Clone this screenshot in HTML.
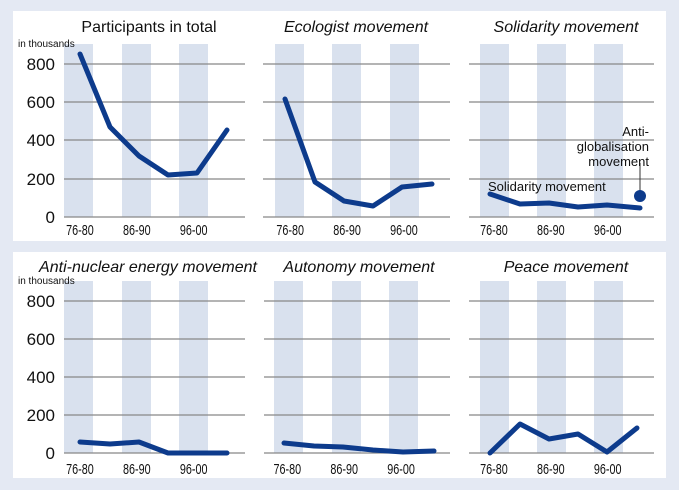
<!DOCTYPE html>
<html><head><style>
html,body{margin:0;padding:0;background:#e4e9f3;}
svg{display:block;font-family:"Liberation Sans",sans-serif;}
</style></head><body>
<svg width="679" height="490" viewBox="0 0 679 490">
<rect x="0" y="0" width="679" height="490" fill="#e4e9f3"/>
<rect x="13" y="11" width="653" height="230" fill="#fff"/>
<rect x="13" y="252" width="653" height="226" fill="#fff"/>
<g fill="#d9e1ee">
<rect x="64" y="44" width="29" height="173"/><rect x="122" y="44" width="29" height="173"/><rect x="179" y="44" width="29" height="173"/>
<rect x="275" y="44" width="29" height="173"/><rect x="332" y="44" width="29" height="173"/><rect x="390" y="44" width="29" height="173"/>
<rect x="480" y="44" width="29" height="173"/><rect x="537" y="44" width="29" height="173"/><rect x="594" y="44" width="29" height="173"/>
<rect x="64" y="281" width="29" height="172"/><rect x="122" y="281" width="29" height="172"/><rect x="179" y="281" width="29" height="172"/>
<rect x="274" y="281" width="29" height="172"/><rect x="332" y="281" width="29" height="172"/><rect x="389" y="281" width="29" height="172"/>
<rect x="480" y="281" width="29" height="172"/><rect x="537" y="281" width="29" height="172"/><rect x="594" y="281" width="29" height="172"/>
</g>
<g stroke="#888" stroke-width="1.2">
<path d="M64 64H245M64 102H245M64 140H245M64 179H245M64 217H245"/>
<path d="M263 64H450M263 102H450M263 140H450M263 179H450M263 217H450"/>
<path d="M469 64H654M469 102H654M469 140H654M469 179H654M469 217H654"/>
<path d="M64 301H245M64 339H245M64 377H245M64 415H245M64 453H245"/>
<path d="M264 301H450M264 339H450M264 377H450M264 415H450M264 453H450"/>
<path d="M469 301H654M469 339H654M469 377H654M469 415H654M469 453H654"/>
</g>
<g fill="#111" font-size="17" text-anchor="end">
<text x="55" y="70">800</text><text x="55" y="108">600</text><text x="55" y="146">400</text><text x="55" y="185">200</text><text x="55" y="223">0</text>
<text x="55" y="307">800</text><text x="55" y="345">600</text><text x="55" y="383">400</text><text x="55" y="421">200</text><text x="55" y="459">0</text>
</g>
<g fill="#111" font-size="10"><text x="18" y="47">in thousands</text><text x="18" y="284">in thousands</text></g>
<g fill="#111" font-size="16" text-anchor="middle">
<text x="149" y="32">Participants in total</text>
<text x="356" y="32" font-style="italic">Ecologist movement</text>
<text x="566" y="32" font-style="italic">Solidarity movement</text>
<text x="148" y="272" font-style="italic">Anti-nuclear energy movement</text>
<text x="359" y="272" font-style="italic">Autonomy movement</text>
<text x="566" y="272" font-style="italic">Peace movement</text>
</g>
<g fill="#111" font-size="15" text-anchor="middle" transform="scale(0.72,1)">
<text x="111" y="235">76-80</text><text x="190" y="235">86-90</text><text x="269" y="235">96-00</text>
<text x="403" y="235">76-80</text><text x="482" y="235">86-90</text><text x="561" y="235">96-00</text>
<text x="686" y="235">76-80</text><text x="765" y="235">86-90</text><text x="844" y="235">96-00</text>
<text x="111" y="474">76-80</text><text x="190" y="474">86-90</text><text x="269" y="474">96-00</text>
<text x="399" y="474">76-80</text><text x="478" y="474">86-90</text><text x="557" y="474">96-00</text>
<text x="686" y="474">76-80</text><text x="765" y="474">86-90</text><text x="844" y="474">96-00</text>
</g>
<g fill="none" stroke="#0d3b8c" stroke-width="5" stroke-linejoin="round" stroke-linecap="round">
<polyline points="80,54 110,127 139,156 168,175 197,173 227,130"/>
<polyline points="285,99 315,182 344,201 373,206 402,187 432,184"/>
<polyline points="490,194 520,204 549,203 578,207 607,205 640,208"/>
<polyline points="80,442 110,444 139,442 168,453 197,453 227,453"/>
<polyline points="284,443 314,446 343,447 373,450 403,452 434,451"/>
<polyline points="490,453 520,424 549,439 578,434 607,452 637,428"/>
</g>
<line x1="640" y1="163" x2="640" y2="192" stroke="#333" stroke-width="1"/>
<circle cx="640" cy="196" r="6" fill="#0d3b8c"/>
<g fill="#111" font-size="13">
<text x="488" y="191">Solidarity movement</text>
<g text-anchor="end"><text x="649" y="136">Anti-</text><text x="649" y="151">globalisation</text><text x="649" y="166">movement</text></g>
</g>
</svg>
</body></html>
